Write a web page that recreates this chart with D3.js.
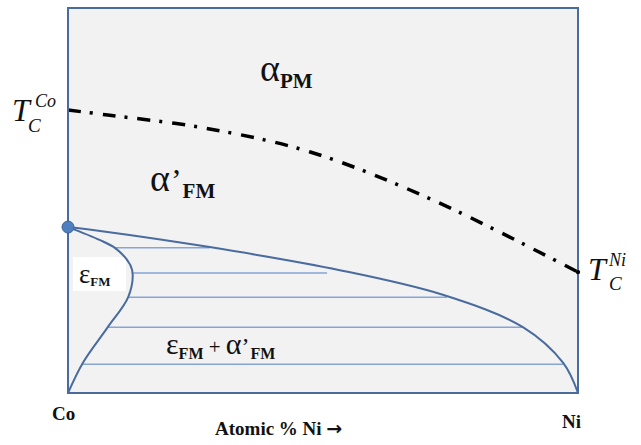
<!DOCTYPE html>
<html>
<head>
<meta charset="utf-8">
<script src="https://cdn.jsdelivr.net/npm/d3@7"></script>
<style>
  body { margin: 0; background: #fff; }
  svg text { font-family: "Liberation Serif", "Times New Roman", serif; fill: #111; }
</style>
</head>
<body>
<svg></svg>
<script>
// atomic % Ni (x) vs temperature in arbitrary units (y)
const tcCurve = [[0, 73.5], [7.8, 72.2], [26.9, 68.8], [47.5, 62.6], [71.6, 50.1], [100, 31.4]];
const alphaBoundary = [[0, 43.1], [6.3, 42.1], [27.8, 37.9], [53.3, 31.9], [73.5, 25.5], [89.2, 17.1], [97.1, 7.8], [100, 0]];
const epsBoundary = [[0, 43.1], [6.3, 39.7], [9.2, 37.7], [12.7, 30.6], [11.8, 24.9], [7.8, 17.1], [2.9, 7.8], [0, 0]];
const tieY = [37.7, 31.2, 24.9, 17.1, 7.5];
const tieX0 = [9.2, 12.7, 11.8, 7.8, 2.9];
const tieX1 = [27.8, 50.8, 74.3, 89.2, 97.1];
const triplePoint = [0, 43.1];

const width = 641;
const height = 445;
const margin = {top: 8, right: 63, bottom: 52, left: 68};
const BLUE = "#4a6b9e";
const TIE_BLUE = "#84a5d6";

const svg = d3.select("svg").attr("width", width).attr("height", height);

const x = d3.scaleLinear().domain([0, 100]).range([margin.left, width - margin.right]);
const y = d3.scaleLinear().domain([0, 100]).range([height - margin.bottom, margin.top]);

// plot background
svg.append("rect")
   .attr("x", x(0)).attr("y", y(100))
   .attr("width", x(100) - x(0)).attr("height", y(0) - y(100))
   .attr("fill", "#f2f2f2");

// white patch behind the epsilon label
svg.append("rect")
   .attr("x", 73).attr("y", 257).attr("width", 53).attr("height", 34)
   .attr("fill", "#fff");

// tie lines in the two phase field
svg.append("g")
   .selectAll("line")
   .data(tieY)
   .enter()
   .append("line")
   .attr("x1", (d, i) => x(tieX0[i]))
   .attr("x2", (d, i) => x(tieX1[i]))
   .attr("y1", d => y(d))
   .attr("y2", d => y(d))
   .attr("stroke", TIE_BLUE)
   .attr("stroke-width", 1.5);

const line = d3.line().x(d => x(d[0])).y(d => y(d[1]));

svg.append("path")
   .attr("d", line.curve(d3.curveCatmullRom)(alphaBoundary))
   .attr("fill", "none").attr("stroke", BLUE).attr("stroke-width", 2);

svg.append("path")
   .attr("d", line.curve(d3.curveMonotoneY)(epsBoundary))
   .attr("fill", "none").attr("stroke", BLUE).attr("stroke-width", 2);

// curie temperature line
svg.append("path")
   .attr("d", line.curve(d3.curveCatmullRom)(tcCurve))
   .attr("fill", "none").attr("stroke", "#000").attr("stroke-width", 3.5)
   .attr("stroke-dasharray", "13 9 3 10");

// frame
svg.append("rect")
   .attr("x", x(0)).attr("y", y(100))
   .attr("width", x(100) - x(0)).attr("height", y(0) - y(100))
   .attr("fill", "none").attr("stroke", BLUE).attr("stroke-width", 2);

svg.append("circle")
   .attr("cx", x(triplePoint[0])).attr("cy", y(triplePoint[1])).attr("r", 6)
   .attr("fill", "#4f7fbf").attr("stroke", "#3d6399").attr("stroke-width", 1);

svg.append("circle")
   .attr("cx", x(100)).attr("cy", y(tcCurve[tcCurve.length - 1][1])).attr("r", 2.2)
   .attr("fill", "#000");

// phase labels
const label = (px, py, parts) => {
   const t = svg.append("text").attr("x", px).attr("y", py);
   parts.forEach(p => {
      t.append("tspan")
         .attr("font-size", p.size)
         .attr("font-weight", p.bold ? "bold" : null)
         .attr("font-style", p.italic ? "italic" : null)
         .attr("font-family", p.family || null)
         .attr("dy", p.dy || 0)
         .attr("dx", p.dx || 0)
         .text(p.text);
   });
   return t;
};

label(260, 81, [{text: "α", size: 38}, {text: "PM", size: 21, bold: true, dy: 7}]);
label(150, 191, [{text: "α", size: 38}, {text: "’", size: 32, dx: 1}, {text: "FM", size: 21, bold: true, dy: 7, dx: 1}]);
label(79, 283, [{text: "ε", size: 27}, {text: "FM", size: 13, bold: true, dy: 3}]);
label(166, 354, [{text: "ε", size: 30}, {text: "FM", size: 16, bold: true, dy: 5},
   {text: " + ", size: 21, dy: -5}, {text: "α", size: 30}, {text: "’", size: 24}, {text: "FM", size: 16, bold: true, dy: 5, dx: 1}]);

// curie temperature labels
label(12, 121, [{text: "T", size: 32, italic: true}]);
label(28, 132, [{text: "C", size: 19, italic: true}]);
label(35, 107, [{text: "Co", size: 18, italic: true}]);
label(588, 280, [{text: "T", size: 32, italic: true}]);
label(609, 290, [{text: "C", size: 19, italic: true}]);
label(609, 266, [{text: "Ni", size: 18, italic: true}]);

// composition ends and axis title
svg.append("text").attr("x", 52).attr("y", 420)
   .attr("font-size", 19).attr("font-weight", "bold").text("Co");
svg.append("text").attr("x", 562).attr("y", 428)
   .attr("font-size", 19).attr("font-weight", "bold").text("Ni");
label(215, 435, [{text: "Atomic % Ni ", size: 19, bold: true},
   {text: "→", size: 19, bold: true, family: "DejaVu Sans"}]);
</script>
</body>
</html>
